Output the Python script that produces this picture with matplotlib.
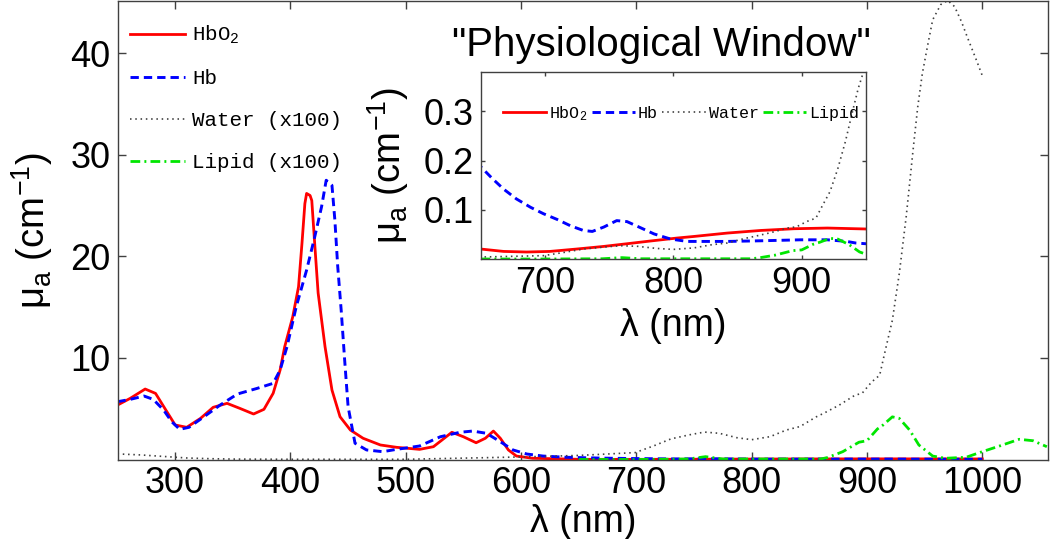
import matplotlib
matplotlib.use('Agg')
import matplotlib.pyplot as plt

# =========================
# Data
# =========================

# Oxy-haemoglobin, cm^-1
hbo2_wl = [250, 261, 274, 283, 291, 300, 310, 322, 333, 345, 356, 368, 377, 385,
           391, 395, 402, 407, 410, 412.5, 414, 417, 418.5, 421, 424, 430, 436,
           443, 452, 463, 478, 492, 512, 524, 540, 550, 561, 569, 576, 582, 589,
           596, 610, 639, 650, 668, 686, 704, 725, 746, 764, 782, 803, 816, 842,
           868, 894, 920, 942, 950, 1000]
hbo2_mua = [5.36, 6.02, 6.94, 6.51, 5.04, 3.4, 3.17, 4.05, 5.14, 5.53, 5.04, 4.48,
            4.94, 6.52, 8.8, 11.1, 14.06, 17.0, 21.3, 25.2, 26.2, 26.0, 25.5, 21.3,
            16.4, 11.1, 6.84, 4.21, 2.9, 2.09, 1.43, 1.2, 1.0, 1.26, 2.68, 2.24,
            1.65, 2.09, 2.8, 2.09, 0.94, 0.34, 0.12, 0.05, 0.0203, 0.0154, 0.0142,
            0.0154, 0.0203, 0.0256, 0.031, 0.0365, 0.0426, 0.0458, 0.0527, 0.058,
            0.0615, 0.0629, 0.0615, 0.061, 0.055]

# Deoxy-haemoglobin, cm^-1
hb_wl = [250, 261, 273, 281, 290, 297, 304, 312, 325, 339, 354, 371, 385, 391,
         397, 405, 414, 421, 427, 431, 436, 438.5, 441, 444, 447, 450, 456, 466,
         480, 492, 512, 530, 547, 558, 570, 582, 593, 605, 619, 639, 650, 659,
         668, 678, 689, 699, 710, 720, 730, 737, 746, 756, 764, 775, 785, 798,
         811, 842, 868, 899, 920, 935, 942, 950, 1000]
hb_mua = [5.69, 5.92, 6.25, 5.92, 4.87, 3.72, 2.97, 3.17, 4.21, 5.36, 6.45, 7.0,
          7.5, 8.8, 11.1, 15.04, 18.65, 21.9, 24.9, 27.5, 27.0, 23.6, 19.0, 14.7,
          9.8, 5.2, 1.6, 0.94, 0.77, 1.0, 1.33, 2.24, 2.68, 2.8, 2.58, 1.75, 0.94,
          0.54, 0.34, 0.22, 0.188, 0.164, 0.142, 0.122, 0.105, 0.092, 0.080,
          0.0675, 0.058, 0.056, 0.065, 0.078, 0.076, 0.063, 0.051, 0.0405, 0.0357,
          0.0357, 0.037, 0.039, 0.039, 0.0357, 0.0325, 0.031, 0.025]

# Water, cm^-1 (shown x100 in the main panel)
water_wl = [250, 270, 290, 310, 330, 350, 400, 500, 600, 650, 673, 699, 715, 730,
            746, 759, 772, 787, 800, 816, 830, 842, 856, 863, 876, 889, 896, 904,
            911, 916, 922, 928, 934, 940, 944, 948, 953, 957, 964, 970, 976, 982,
            987, 995, 1000]
water_mua = [0.0055, 0.0045, 0.003, 0.0015, 0.0008, 0.0004, 0.0002, 0.0002,
             0.0025, 0.004, 0.0053, 0.0068, 0.0134, 0.0203, 0.0243, 0.027, 0.0258,
             0.0215, 0.0195, 0.0225, 0.029, 0.0325, 0.042, 0.0458, 0.0536, 0.0629,
             0.0655, 0.0763, 0.083, 0.108, 0.137, 0.183, 0.239, 0.305, 0.347, 0.38,
             0.41, 0.433, 0.448, 0.452, 0.446, 0.431, 0.416, 0.393, 0.378]

# Lipid, cm^-1 (shown x100 in the main panel)
lipid_wl = [650, 700, 745, 760, 775, 860, 866, 879, 893, 900, 909, 914, 922, 928,
            937, 945, 957, 968, 986, 1000, 1015, 1032, 1044, 1056]
lipid_mua = [0.0, 0.0, 0.0005, 0.0028, 0.0005, 0.0005, 0.002, 0.0077, 0.017,
             0.0185, 0.03, 0.034, 0.042, 0.0405, 0.029, 0.0143, 0.0034, 0.0012,
             0.0022, 0.0077, 0.0133, 0.0199, 0.0185, 0.0126]

main_labels = ['HbO$_\\mathregular{2}$', 'Hb', 'Water (x100)', 'Lipid (x100)']
inset_labels = ['HbO$_\\mathregular{2}$', 'Hb', 'Water', 'Lipid']

# =========================
# Style
# =========================

plt.rcParams['font.family'] = ['Liberation Sans', 'DejaVu Sans']
plt.rcParams['mathtext.fontset'] = 'custom'
plt.rcParams['mathtext.rm'] = 'Liberation Sans'
plt.rcParams['mathtext.it'] = 'Liberation Sans:italic'
plt.rcParams['mathtext.default'] = 'regular'
plt.rcParams['lines.scale_dashes'] = False

spine_col = '#404040'
styles = [dict(color='#ff0000', lw=2.0, ls='-'),
          dict(color='#0000ff', lw=2.1, ls=(0, (6, 3.6))),
          dict(color='#404040', lw=1.2, ls=(0, (1.1, 2.7))),
          dict(color='#00e600', lw=2.0, ls=(0, (7, 3, 1.4, 3)))]


def style_axes(ax, ticklen, labelsize):
    for s in ax.spines.values():
        s.set_color(spine_col)
        s.set_linewidth(1.0)
    ax.tick_params(direction='in', top=True, right=True, length=ticklen,
                   width=1.0, color=spine_col, labelsize=labelsize, pad=5)


fig = plt.figure(figsize=(10.5, 5.39), dpi=100)

# =========================
# Main panel
# =========================

ax = fig.add_axes([117.5 / 1050, 79.5 / 539, 930.5 / 1050, 459 / 539])
ax.plot(hbo2_wl, hbo2_mua, label=main_labels[0], **styles[0])
ax.plot(hb_wl, hb_mua, label=main_labels[1], **styles[1])
ax.plot(water_wl, [v * 100 for v in water_mua], label=main_labels[2], **styles[2])
ax.plot(lipid_wl, [v * 100 for v in lipid_mua], label=main_labels[3], **styles[3])
ax.set_xlim(250, 1057)
ax.set_ylim(0, 45.2)
ax.set_xticks(range(300, 1001, 100))
ax.set_yticks([10, 20, 30, 40])
style_axes(ax, 6, 26)
ax.set_xlabel('λ (nm)', fontsize=27, labelpad=2)
ax.set_ylabel('μ$_a$ (cm$^{-1}$)', fontsize=27.5, labelpad=11)

leg = ax.legend(loc='upper left', bbox_to_anchor=(130 / 1050, 1 - 24 / 539),
                bbox_transform=fig.transFigure, frameon=False, borderpad=0,
                borderaxespad=0, handlelength=2.64, handletextpad=0.34,
                labelspacing=1.1, prop={'family': 'Liberation Mono', 'size': 15})

# =========================
# Inset: the physiological window
# =========================

ax_in = fig.add_axes([480.5 / 1050, 280 / 539, 385.5 / 1050, 187 / 539])
ax_in.set_facecolor('white')
ax_in.plot(hbo2_wl, hbo2_mua, label=inset_labels[0], **styles[0])
ax_in.plot(hb_wl, hb_mua, label=inset_labels[1], **styles[1])
ax_in.plot(water_wl, water_mua, label=inset_labels[2], **styles[2])
ax_in.plot(lipid_wl, lipid_mua, label=inset_labels[3], **styles[3])
ax_in.set_xlim(650, 950)
ax_in.set_ylim(0, 0.38)
ax_in.set_xticks([700, 800, 900])
ax_in.set_yticks([0.1, 0.2, 0.3])
style_axes(ax_in, 3, 26)
ax_in.set_xlabel('λ (nm)', fontsize=27, labelpad=5)
ax_in.set_ylabel('μ$_a$ (cm$^{-1}$)', fontsize=27.5, labelpad=9)
ax_in.legend(loc='upper left', ncol=4, bbox_to_anchor=(503 / 1050, 1 - 104 / 539),
             bbox_transform=fig.transFigure, frameon=False, borderpad=0,
             borderaxespad=0, handlelength=2.6, handletextpad=0.18,
             columnspacing=0.25, prop={'family': 'Liberation Mono', 'size': 12})

fig.text(871 / 1050, 1 - 45 / 539, '"Physiological Window"', fontsize=29,
         ha='right', va='center')

fig.savefig('out.png', dpi=100)
